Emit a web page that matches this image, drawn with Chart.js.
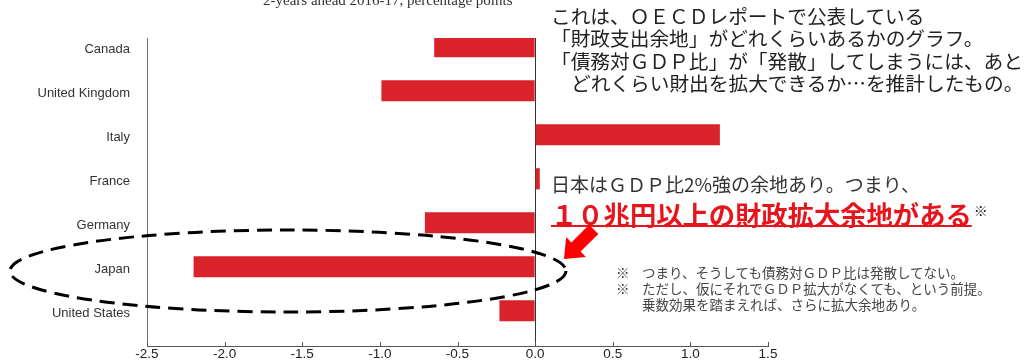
<!DOCTYPE html>
<html lang="ja">
<head>
  <meta charset="UTF-8" />
  <title>Fiscal space - OECD</title>
  <script src="https://cdn.jsdelivr.net/npm/chart.js"></script>
  <style>
    html, body {
      margin: 0;
      padding: 0;
      background: #fff;
      overflow: hidden;
    }
    .wrap {
      position: relative;
      width: 1034px;
      height: 362px;
    }
    canvas { display: block; }
    .title {
      position: absolute;
      left: 263px;
      top: -7px;
      font-family: "Liberation Serif", "DejaVu Serif", serif;
      font-size: 15px;
      line-height: 15px;
      color: #333;
      white-space: nowrap;
    }
    .note {
      position: absolute;
      left: 551px;
      top: 5px;
      font-family: "Noto Sans CJK JP", sans-serif;
      font-size: 19.7px;
      line-height: 22.3px;
      color: #222;
      white-space: nowrap;
    }
    .note .indent { padding-left: 20px; }
    .japan {
      position: absolute;
      left: 551px;
      top: 173px;
      font-family: "Noto Sans CJK JP", sans-serif;
      font-size: 19px;
      line-height: 22px;
      color: #333;
      white-space: nowrap;
    }
    .big {
      position: absolute;
      left: 551px;
      top: 195px;
      font-family: "Noto Sans CJK JP", sans-serif;
      font-size: 26.3px;
      font-weight: bold;
      line-height: 30px;
      color: #e8141c;
      white-space: nowrap;
    }
    .big u { text-decoration-thickness: 2px; text-underline-offset: 0px; }
    .big sup {
      color: #222;
      font-size: 14px;
      font-weight: normal;
      vertical-align: 9px;
      margin-left: 2px;
    }
    .foot {
      position: absolute;
      left: 616px;
      top: 264px;
      font-family: "Noto Sans CJK JP", sans-serif;
      font-size: 13.5px;
      line-height: 16px;
      color: #444;
      white-space: nowrap;
    }
    .foot .m { display: inline-block; width: 26px; }
    svg.over {
      position: absolute;
      left: 0;
      top: 0;
      pointer-events: none;
    }
  </style>
</head>
<body>
  <div class="wrap">
    <canvas id="chart" width="1034" height="362"></canvas>
    <div class="title">2-years ahead 2016-17, percentage points</div>
    <div class="note">
      これは、ＯＥＣＤレポートで公表している<br>
      「財政支出余地」がどれくらいあるかのグラフ。<br>
      「債務対ＧＤＰ比」が「発散」してしまうには、あと<br>
      <span class="indent">どれくらい財出を拡大できるか…を推計したもの。</span>
    </div>
    <div class="japan">日本はＧＤＰ比2%強の余地あり。つまり、</div>
    <div class="big"><u>１０兆円以上の財政拡大余地がある</u><sup>※</sup></div>
    <div class="foot">
      <span class="m">※</span>つまり、そうしても債務対ＧＤＰ比は発散してない。<br>
      <span class="m">※</span>ただし、仮にそれでＧＤＰ拡大がなくても、という前提。<br>
      <span class="m"></span>乗数効果を踏まえれば、さらに拡大余地あり。
    </div>
    <svg class="over" width="1034" height="362">
      <ellipse cx="288" cy="271" rx="278" ry="41" fill="none" stroke="#000"
               stroke-width="3" stroke-dasharray="15 8" />
      <g transform="translate(564,259) rotate(-45)">
        <polygon points="0,0 17,-14 17,-6.5 42,-6.5 42,6.5 17,6.5 17,14" fill="#f00" />
      </g>
    </svg>
  </div>
  <script>
    const countries = ["Canada", "United Kingdom", "Italy", "France", "Germany", "Japan", "United States"];
    const fiscalSpace = [-0.65, -0.99, 1.19, 0.03, -0.71, -2.2, -0.23];
    const xTicks = [-2.5, -2.0, -1.5, -1.0, -0.5, 0.0, 0.5, 1.0, 1.5];

    const points = fiscalSpace.map((v, i) => ({ x: v, y: i }));

    // small tick marks pointing up from the x axis
    const upTicks = {
      id: 'upTicks',
      afterDraw(chart) {
        const xs = chart.scales.x;
        const ctx = chart.ctx;
        const b = chart.chartArea.bottom;
        ctx.save();
        ctx.strokeStyle = '#555';
        ctx.lineWidth = 1;
        xTicks.forEach(t => {
          const px = Math.round(xs.getPixelForValue(t)) + 0.5;
          ctx.beginPath();
          ctx.moveTo(px, b);
          ctx.lineTo(px, b - 4);
          ctx.stroke();
        });
        ctx.restore();
      }
    };

    new Chart(document.getElementById('chart'), {
      type: 'bar',
      data: {
        datasets: [{
          data: points,
          backgroundColor: '#d9222a',
          borderWidth: 0,
          barPercentage: 0.48,
          categoryPercentage: 1
        }]
      },
      options: {
        indexAxis: 'y',
        responsive: false,
        animation: false,
        layout: { padding: { top: 38, right: 266, left: 0, bottom: 0 } },
        plugins: { legend: { display: false }, tooltip: { enabled: false } },
        scales: {
          x: {
            type: 'linear',
            min: -2.5,
            max: 1.5,
            afterBuildTicks: s => { s.ticks = xTicks.map(v => ({ value: v })); },
            afterFit: s => { s.height = 16; s.paddingLeft = 0; s.paddingRight = 0; },
            ticks: {
              padding: 0,
              color: '#222',
              font: { family: "'Liberation Sans', Arial, sans-serif", size: 13.5 },
              callback: v => v.toFixed(1)
            },
            grid: {
              drawTicks: false,
              color: c => (c.tick && c.tick.value === 0 ? '#333' : 'rgba(0,0,0,0)')
            },
            border: { display: true, color: '#555', width: 1 }
          },
          y: {
            type: 'linear',
            reverse: true,
            offset: false,
            min: -0.2,
            max: 6.8,
            afterBuildTicks: s => { s.ticks = countries.map((_, i) => ({ value: i })); },
            afterFit: s => { s.width = 147; s.paddingTop = 0; s.paddingBottom = 0; },
            ticks: {
              padding: 17,
              labelOffset: 3,
              color: '#333',
              font: { family: "'Liberation Sans', Arial, sans-serif", size: 13 },
              callback: v => countries[v]
            },
            grid: { display: false, drawTicks: false, offset: false },
            border: { display: true, color: '#777', width: 1 }
          }
        }
      },
      plugins: [upTicks]
    });
  </script>
</body>
</html>
